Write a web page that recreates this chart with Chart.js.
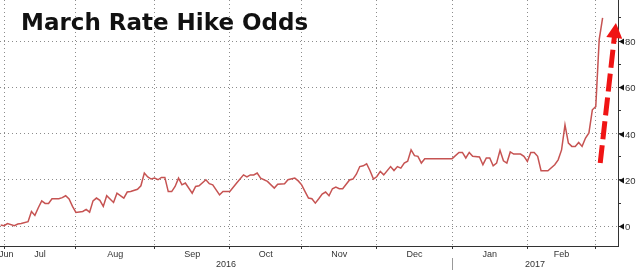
<!DOCTYPE html>
<html>
<head>
<meta charset="utf-8">
<script src="https://cdn.jsdelivr.net/npm/chart.js@4.4.1/dist/chart.umd.min.js"></script>
<style>
  html, body { margin: 0; padding: 0; background: #fff; }
</style>
</head>
<body>
<canvas id="myChart" width="640" height="272"></canvas>
<script>
// x = weekday count from Fri 1 Jul 2016 (0), y = market implied odds of a March hike (%)
var day = [-1, 0, 1, 3, 4, 5, 7, 8, 9, 10, 11, 12, 13, 14, 16, 17, 18, 19, 20, 21,
  23, 24, 25, 26, 27, 28, 29, 30, 32, 33, 35, 36, 37, 39, 40, 41, 42, 43, 44, 45,
  46, 47, 48, 49, 50, 51, 52, 53, 55, 56, 57, 59, 60, 61, 63, 64, 66, 68, 70, 71,
  72, 73, 74, 75, 77, 79, 80, 82, 83, 85, 86, 87, 88, 89, 90, 91, 92, 93, 94, 95,
  96, 97, 98, 99, 101, 102, 103, 104, 105, 106, 107, 108, 109, 110, 111, 113, 114, 115, 116, 117,
  118, 119, 120, 121, 122, 123, 124, 125, 126, 127, 128, 129, 130, 131, 133, 134, 135, 136, 137, 139,
  140, 141, 142, 143, 144, 145, 146, 147, 148, 149, 151, 152, 153, 154, 155, 156, 157, 159, 161, 162,
  163, 164, 165, 166, 167, 168, 169, 170, 171, 172, 173, 174, 175];
var odds = [0.6, 0.3, 1.2, 0.3, 1.0, 1.2, 2.0, 6.4, 4.7, 8.0, 11.0, 9.9, 9.9, 11.9, 11.9, 12.4, 13.2, 11.8, 8.6, 6.0,
  6.4, 7.3, 6.1, 11.0, 12.2, 11.2, 8.6, 13.2, 10.3, 14.3, 12.2, 14.8, 15.0, 16.0, 17.5, 23.0, 21.3, 20.4, 20.8, 20.1,
  21.1, 21.1, 15.0, 15.0, 17.2, 20.8, 17.9, 18.7, 14.3, 17.2, 17.5, 20.1, 18.4, 17.9, 13.6, 15.0, 15.0, 18.7, 22.2, 21.3,
  22.2, 22.2, 23.0, 20.8, 19.4, 16.5, 18.2, 18.4, 20.1, 20.8, 19.6, 17.9, 15.0, 12.2, 11.9, 10.0, 11.9, 13.9, 14.8, 13.2,
  16.2, 16.9, 16.2, 16.2, 20.0, 20.4, 22.5, 25.8, 26.1, 27.0, 24.0, 20.4, 21.5, 23.7, 22.2, 25.8, 24.1, 25.8, 25.1, 27.3,
  28.1, 33.0, 30.5, 30.2, 27.3, 29.2, 29.2, 29.2, 29.2, 29.2, 29.2, 29.2, 29.2, 29.2, 31.9, 31.9, 29.5, 31.9, 30.2, 29.9,
  26.6, 29.5, 29.5, 26.1, 27.3, 32.8, 28.3, 27.3, 32.1, 31.2, 31.2, 30.2, 28.0, 31.9, 31.9, 30.2, 24.0, 24.0, 26.6, 28.7,
  33.0, 43.8, 35.9, 34.5, 34.5, 36.2, 34.5, 38.1, 40.3, 50.3, 51.7, 80.6, 90.0];

// first weekday of each month, Jun 2016 .. Apr 2017
var monthStart = [-22, 0, 21, 44, 66, 87, 109, 131, 153, 173, 196];
var monthNames = ['Jun', 'Jul', 'Aug', 'Sep', 'Oct', 'Nov', 'Dec', 'Jan', 'Feb', ''];
var yearStart = [-130, 131, 392];
var yearNames = ['2016', '2017'];
var yTicks = [0, 10, 20, 30, 40, 50, 60, 70, 80, 90];

// hand drawn arrow (from, to) in chart units
var arrowFrom = [174.3, 27.3];
var arrowTo = [178.9, 87.8];

var titleText = 'March Rate Hike Odds';

var points = [];
for (let i in day) {
  points.push({ x: day[i], y: odds[i] });
}

var extras = {
  id: 'extras',
  afterDatasetsDraw(chart) {
    var ctx = chart.ctx, xs = chart.scales.x, ys = chart.scales.y;
    var x0 = xs.getPixelForValue(arrowFrom[0]), y0 = ys.getPixelForValue(arrowFrom[1]);
    var x1 = xs.getPixelForValue(arrowTo[0]), y1 = ys.getPixelForValue(arrowTo[1]);
    var len = Math.hypot(x1 - x0, y1 - y0);
    var ux = (x1 - x0) / len, uy = (y1 - y0) / len;
    var head = 15, half = 8;
    var bx = x1 - ux * head, by = y1 - uy * head;
    ctx.save();
    ctx.strokeStyle = '#f01414';
    ctx.fillStyle = '#f01414';
    ctx.lineWidth = 5;
    ctx.setLineDash([18, 6]);
    ctx.beginPath();
    ctx.moveTo(x0, y0);
    ctx.lineTo(bx + ux * 2, by + uy * 2);
    ctx.stroke();
    ctx.setLineDash([]);
    ctx.beginPath();
    ctx.moveTo(x1, y1);
    ctx.lineTo(bx - uy * half, by + ux * half);
    ctx.lineTo(bx + uy * half, by - ux * half);
    ctx.closePath();
    ctx.fill();
    ctx.restore();
  },
  afterDraw(chart) {
    var ctx = chart.ctx, xs = chart.scales.x, ys = chart.scales.y, area = chart.chartArea;
    ctx.save();
    // month labels, centred in the visible part of each month
    ctx.font = '9px "Liberation Sans", Arial, sans-serif';
    ctx.fillStyle = '#333';
    ctx.textAlign = 'center';
    ctx.textBaseline = 'alphabetic';
    for (let i = 0; i < monthNames.length; i++) {
      if (!monthNames[i]) continue;
      var a = xs.getPixelForValue(Math.max(monthStart[i], xs.min));
      var b = xs.getPixelForValue(Math.min(monthStart[i + 1], xs.max));
      var w = ctx.measureText(monthNames[i]).width;
      var c = Math.max((a + b) / 2, area.left + w / 2 - 1);
      ctx.fillText(monthNames[i], c, area.bottom + 11);
    }
    for (let i = 0; i < yearNames.length; i++) {
      var a = xs.getPixelForValue(Math.max(yearStart[i], xs.min));
      var b = xs.getPixelForValue(Math.min(yearStart[i + 1], xs.max));
      ctx.fillText(yearNames[i], (a + b) / 2, area.bottom + 21);
    }
    // year separator
    var sx = Math.round(xs.getPixelForValue(yearStart[1])) + 0.5;
    ctx.strokeStyle = '#999';
    ctx.lineWidth = 1;
    ctx.beginPath();
    ctx.moveTo(sx, area.bottom + 12);
    ctx.lineTo(sx, area.bottom + 24);
    ctx.stroke();
    // right axis labels with markers
    ctx.textAlign = 'left';
    ctx.textBaseline = 'middle';
    ctx.font = '9.5px "Liberation Sans", Arial, sans-serif';
    for (let v of yTicks) {
      if (v % 20) continue;
      var py = Math.round(ys.getPixelForValue(v)) + 0.5;
      ctx.fillStyle = '#111';
      ctx.beginPath();
      ctx.moveTo(area.right + 1, py);
      ctx.lineTo(area.right + 6, py - 3);
      ctx.lineTo(area.right + 6, py + 3);
      ctx.closePath();
      ctx.fill();
      ctx.fillStyle = '#333';
      ctx.fillText(String(v), area.right + 7, py + 0.5);
    }
    // title
    ctx.font = 'bold 23px "DejaVu Sans", Verdana, sans-serif';
    ctx.fillStyle = '#111';
    ctx.textAlign = 'left';
    ctx.textBaseline = 'alphabetic';
    ctx.fillText(titleText, 21, 30);
    ctx.restore();
  }
};

const myChart = new Chart('myChart', {
  type: 'line',
  data: {
    datasets: [{
      data: points,
      borderColor: '#c65352',
      borderWidth: 1.5,
      pointRadius: 0,
      tension: 0
    }]
  },
  options: {
    responsive: false,
    animation: false,
    events: [],
    layout: { padding: 0 },
    plugins: { legend: { display: false }, tooltip: { enabled: false } },
    scales: {
      x: {
        type: 'linear',
        min: -1.2,
        max: 179.5,
        afterBuildTicks: (s) => { s.ticks = monthStart.filter(v => v > s.min && v < s.max).map(v => ({ value: v })) },
        afterFit: (s) => { s.height = 26 },
        ticks: { display: false },
        grid: { color: '#8c8c8c', tickColor: '#333', tickLength: 3 },
        border: { display: true, color: '#333', dash: [1, 3] }
      },
      y: {
        position: 'right',
        min: -8.5,
        max: 97.7,
        afterBuildTicks: (s) => { s.ticks = yTicks.map(v => ({ value: v })) },
        afterFit: (s) => { s.width = 22 },
        ticks: { display: false },
        grid: {
          color: (c) => (c.tick && c.tick.value % 20 === 0) ? '#8c8c8c' : 'rgba(0,0,0,0)',
          tickColor: '#333',
          tickLength: 3
        },
        border: { display: true, color: '#333', dash: [1, 3] }
      }
    }
  },
  plugins: [extras]
});
</script>
</body>
</html>
